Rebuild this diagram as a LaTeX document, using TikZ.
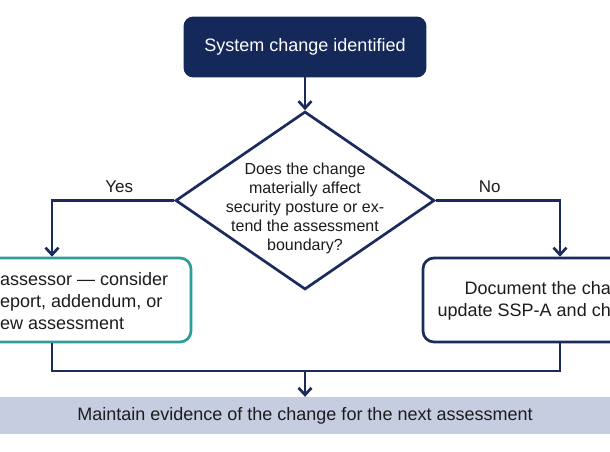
\documentclass[tikz,border=0pt]{standalone}
\usepackage{fontspec}
\setmainfont{Liberation Sans}
\definecolor{navyFill}{HTML}{14285A}
\definecolor{navyLine}{HTML}{1B2B5C}
\definecolor{tealLine}{HTML}{2E9D97}
\definecolor{bandFill}{HTML}{C7CDE1}
\definecolor{textMain}{HTML}{1C1C1E}
\usetikzlibrary{shapes.geometric, arrows.meta}
\tikzset{
  stepbase/.style={rounded corners=11pt, line width=2.7pt, inner sep=0pt},
  startbox/.style={stepbase, fill=navyFill, draw=navyFill, text=white, minimum width=240pt, minimum height=58pt, rounded corners=8pt},
  decbox/.style={diamond, draw=navyLine, line width=2.7pt, minimum width=259pt, minimum height=178pt, inner sep=0pt},
  dectext/.style={text=textMain, align=center, inner sep=0pt, font=\fontsize{16}{19}\selectfont},
  yesbox/.style={stepbase, draw=tealLine, fill=white, minimum width=278pt, minimum height=84pt},
  nobox/.style={stepbase, draw=navyLine, fill=white, minimum width=274pt, minimum height=84pt},
  boxtext/.style={text=textMain, inner sep=0pt},
  bandbox/.style={fill=bandFill, text=textMain, minimum width=614pt, minimum height=37pt, inner sep=0pt},
  flowline/.style={draw=navyLine, line width=2.7pt},
  flowarrow/.style={flowline, -{Straight Barb[length=7pt, width=13pt]}},
  branchlabel/.style={text=textMain, font=\fontsize{17}{20}\selectfont},
}

\begin{document}
\begin{tikzpicture}[x=1pt, y=-1pt, font=\fontsize{18}{22}\selectfont]
  \useasboundingbox (0,0) rectangle (610,451);
  \clip (0,0) rectangle (610,451);
  \fill[white] (0,0) rectangle (610,451);

  \node[startbox] (start) at (305,47) {System change identified};
  \node[decbox, label={[dectext, yshift=-8pt]center:{Does the change\\materially affect\\security posture or ex-\\tend the assessment\\boundary?}}] (decision) at (305,200.5) {};

  \node[yesbox] (yes) at (52,300) {};
  \node[boxtext, anchor=west, align=left] (yestext) at (0,301) {assessor — consider\\eport, addendum, or\\ew assessment};
  \node[nobox] (no) at (560,300) {};
  \node[boxtext, anchor=east, align=right] (notext) at (611,301) {Document the cha\\update SSP-A and ch};

  \node[bandbox] (final) at (305,415.5) {Maintain evidence of the change for the next assessment};
  \coordinate (merge) at (305,371);

  \draw[flowarrow] (start) -- (decision);
  \draw[flowarrow] (decision.west) -| node[branchlabel, pos=0.225, above=3pt] {Yes} (yes);
  \draw[flowarrow] (decision.east) -| node[branchlabel, pos=0.217, above=3pt] {No} (no);
  \draw[flowline] (yes) |- (merge) -| (no);
  \draw[flowarrow] (merge) -- (final);
\end{tikzpicture}
\end{document}
